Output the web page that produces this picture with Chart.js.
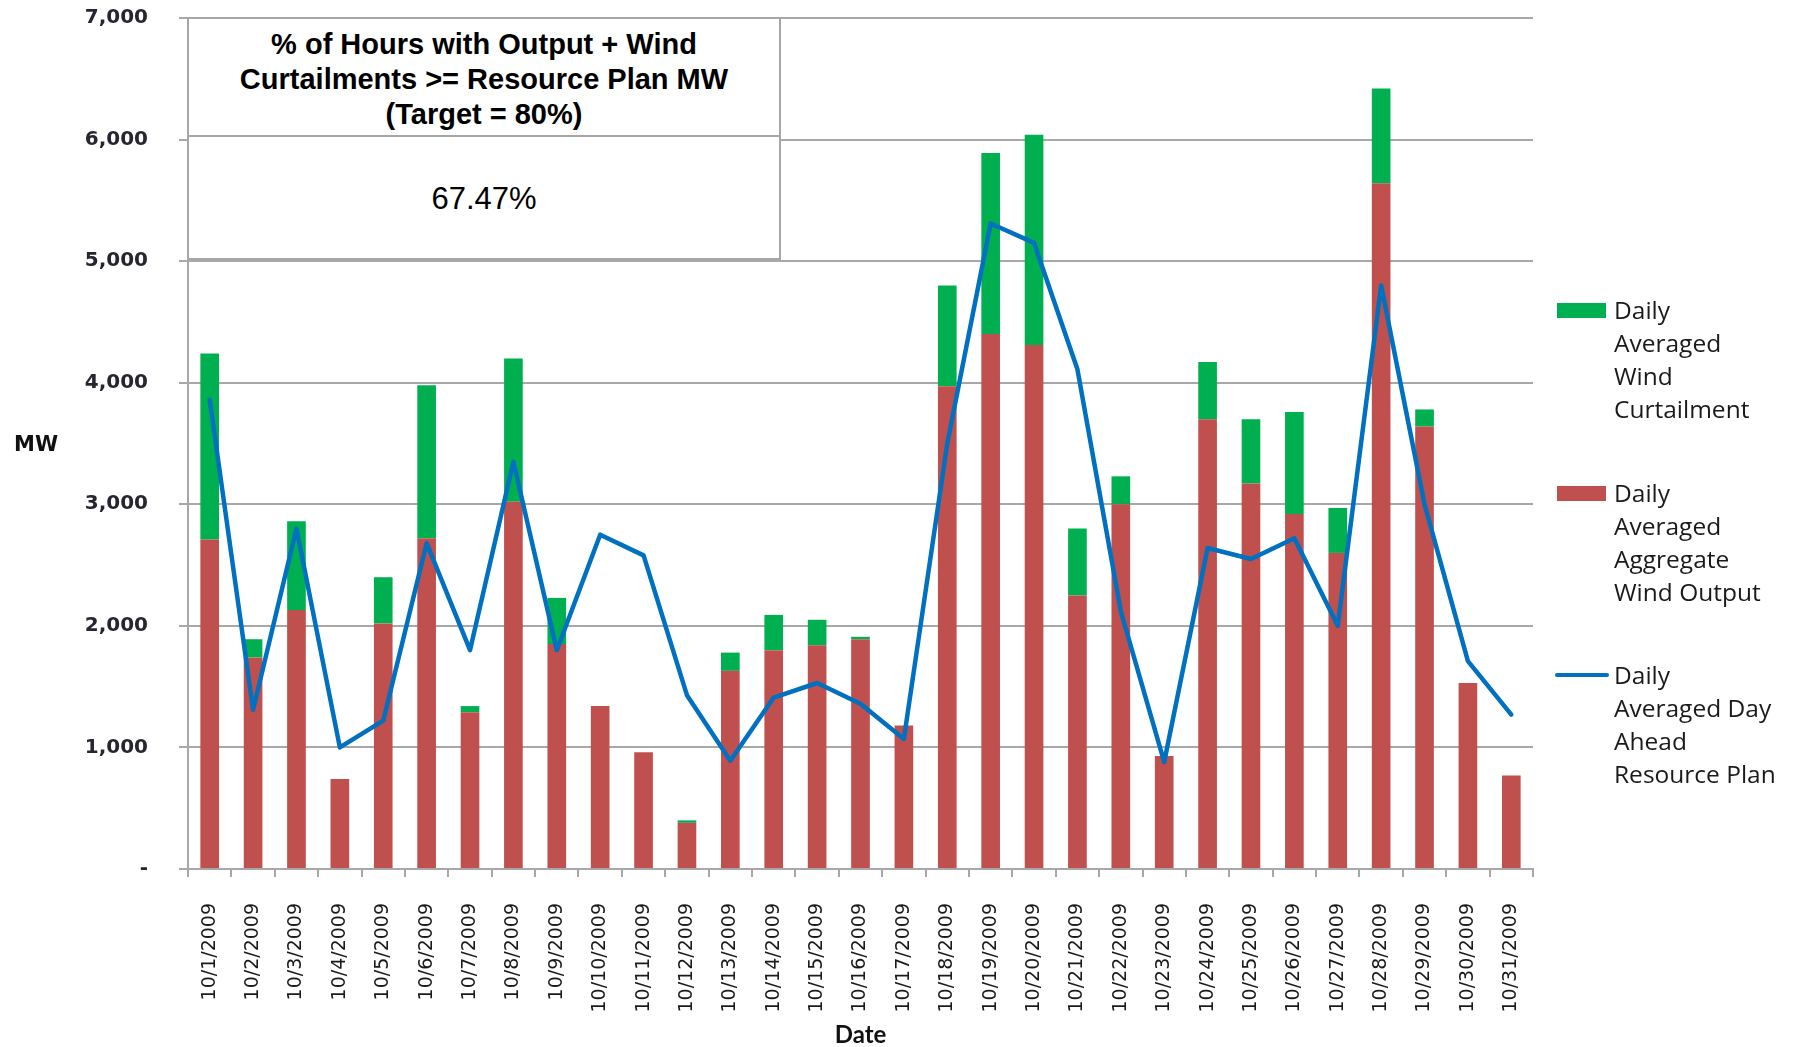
<!DOCTYPE html>
<html>
<head>
<meta charset="utf-8">
<script src="https://cdn.jsdelivr.net/npm/chart.js@4/dist/chart.umd.min.js"></script>
<style>
  body { margin: 0; background: #fff; }
  #wrap { position: relative; width: 1799px; height: 1047px; }
  #note {
    position: absolute; left: 187px; top: 17px; width: 594px; height: 243px;
    box-sizing: border-box; border: 2px solid #a6a6a6; background: #fff;
  }
  #note .head {
    height: 118px; border-bottom: 2px solid #a6a6a6; box-sizing: border-box;
    text-align: center; font: bold 29px "Liberation Sans Narrow", "Liberation Sans", sans-serif;
    line-height: 35px; padding-top: 8px; color: #000;
  }
  #note .val {
    text-align: center; font: 31px "Liberation Sans", sans-serif; color: #000;
    padding-top: 44px;
  }
  .lg { position: absolute; left: 1614px; font: 24.5px "Open Sans", sans-serif; line-height: 33px; color: #1a1a1a; }
  .sw { position: absolute; }
</style>
</head>
<body>
<div id="wrap">
  <canvas id="chart"></canvas>
  <div id="note"><div class="head"></div><div class="val"></div></div>
  <div id="legend"></div>
</div>
<script>
const dates = ['10/1/2009', '10/2/2009', '10/3/2009', '10/4/2009', '10/5/2009', '10/6/2009', '10/7/2009',
  '10/8/2009', '10/9/2009', '10/10/2009', '10/11/2009', '10/12/2009', '10/13/2009', '10/14/2009',
  '10/15/2009', '10/16/2009', '10/17/2009', '10/18/2009', '10/19/2009', '10/20/2009', '10/21/2009',
  '10/22/2009', '10/23/2009', '10/24/2009', '10/25/2009', '10/26/2009', '10/27/2009', '10/28/2009',
  '10/29/2009', '10/30/2009', '10/31/2009'];

// MW
const windOutput = [2710, 1740, 2130, 740, 2020, 2720, 1290, 3020, 1850, 1340, 960, 380, 1630, 1800, 1840,
  1890, 1180, 3970, 4400, 4310, 2250, 3000, 930, 3700, 3170, 2920, 2600, 5640, 3640, 1530, 770];
const curtailment = [1530, 150, 730, 0, 380, 1260, 50, 1180, 380, 0, 0, 20, 150, 290, 210,
  20, 0, 830, 1490, 1730, 550, 230, 0, 470, 530, 840, 370, 780, 140, 0, 0];
const resourcePlan = [3860, 1310, 2800, 1000, 1220, 2680, 1800, 3350, 1800, 2750, 2580, 1430, 890, 1410, 1530,
  1360, 1070, 3500, 5310, 5150, 4110, 2120, 880, 2640, 2550, 2720, 2000, 4800, 3000, 1710, 1270];

const seriesNames = ['Daily Averaged Wind Curtailment', 'Daily Averaged Aggregate Wind Output',
  'Daily Averaged Day Ahead Resource Plan'];
const legendLines = [
  ['Daily', 'Averaged', 'Wind', 'Curtailment'],
  ['Daily', 'Averaged', 'Aggregate', 'Wind Output'],
  ['Daily', 'Averaged Day', 'Ahead', 'Resource Plan']
];
const yTicks = [0, 1000, 2000, 3000, 4000, 5000, 6000, 7000];
const noteTitle = ['% of Hours with Output + Wind', 'Curtailments >= Resource Plan MW', '(Target = 80%)'];
const noteValue = '67.47%';
const yAxisTitle = 'MW';
const xAxisTitle = 'Date';

const gridGray = '#a8a8a8';

// Excel style horizontal "MW" axis title
const yTitlePlugin = {
  id: 'yTitle',
  afterDraw(chart) {
    const { ctx, chartArea } = chart;
    ctx.save();
    ctx.font = 'bold 21px "DejaVu Sans"';
    ctx.fillStyle = '#111';
    ctx.textBaseline = 'middle';
    ctx.textAlign = 'left';
    ctx.fillText(yAxisTitle, 14, (chartArea.top + chartArea.bottom) / 2 + 2);
    ctx.restore();
  }
};

const chart = new Chart(document.getElementById('chart'), {
  type: 'bar',
  data: {
    labels: dates,
    datasets: [
      {
        type: 'line', label: seriesNames[2], data: resourcePlan, stack: 'plan', order: 0,
        borderColor: '#0070C0', backgroundColor: '#0070C0', borderWidth: 4.5,
        pointRadius: 0, tension: 0, borderJoinStyle: 'round', borderCapStyle: 'round'
      },
      {
        label: seriesNames[1], data: windOutput, stack: 'wind', order: 1,
        backgroundColor: '#C0504D', barPercentage: 0.43, categoryPercentage: 1
      },
      {
        label: seriesNames[0], data: curtailment, stack: 'wind', order: 1,
        backgroundColor: '#00B050', barPercentage: 0.43, categoryPercentage: 1
      }
    ]
  },
  options: {
    responsive: true,
    maintainAspectRatio: false,
    animation: false,
    layout: { padding: { left: 0, right: 266, top: 18, bottom: 0 } },
    plugins: {
      legend: { display: false },
      tooltip: { enabled: false }
    },
    scales: {
      x: {
        stacked: true,
        afterFit: s => { s.height = 178; },
        grid: { drawOnChartArea: false, drawTicks: true, tickLength: 8, color: gridGray, lineWidth: 2 },
        border: { display: true, color: gridGray, width: 2 },
        ticks: {
          minRotation: 90, maxRotation: 90, autoSkip: false, padding: 26,
          color: '#1a1a1a', font: { family: 'DejaVu Sans', size: 19 }
        },
        title: {
          display: true, text: xAxisTitle, color: '#111', padding: 0,
          font: { family: 'Lato', size: 24, weight: 'bold', lineHeight: 1 }
        }
      },
      y: {
        stacked: true,
        min: 0, max: 7000,
        afterFit: s => { s.width = 188; s.paddingTop = 10; s.paddingBottom = 10; },
        afterBuildTicks: s => { s.ticks = yTicks.map(v => ({ value: v })); },
        grid: { color: gridGray, lineWidth: 2, tickLength: 9 },
        border: { display: true, color: gridGray, width: 2 },
        ticks: {
          padding: 31, color: '#262630',
          font: { family: 'DejaVu Sans', size: 20, weight: 'bold' },
          callback: v => v === 0 ? '-' : v.toLocaleString('en-US')
        }
      }
    }
  },
  plugins: [yTitlePlugin]
});

// text box in the upper left
document.querySelector('#note .head').innerHTML = noteTitle.join('<br>');
document.querySelector('#note .val').textContent = noteValue;

// legend on the right, built from the chart's datasets
const legendOrder = [2, 1, 0];
const groupTops = [293, 476, 658];
const legendEl = document.getElementById('legend');
legendOrder.forEach((di, i) => {
  const ds = chart.data.datasets[di];
  const top = groupTops[i];
  const sw = document.createElement('div');
  sw.className = 'sw';
  if (ds.type === 'line') {
    Object.assign(sw.style, { left: '1555px', top: (top + 15) + 'px', width: '54px', height: '4px',
      background: ds.borderColor, borderRadius: '2px' });
  } else {
    Object.assign(sw.style, { left: '1557px', top: (top + 10) + 'px', width: '49px', height: '15px',
      background: ds.backgroundColor });
  }
  legendEl.appendChild(sw);
  const txt = document.createElement('div');
  txt.className = 'lg';
  txt.style.top = top + 'px';
  txt.innerHTML = legendLines[i].join('<br>');
  legendEl.appendChild(txt);
});
</script>
</body>
</html>
